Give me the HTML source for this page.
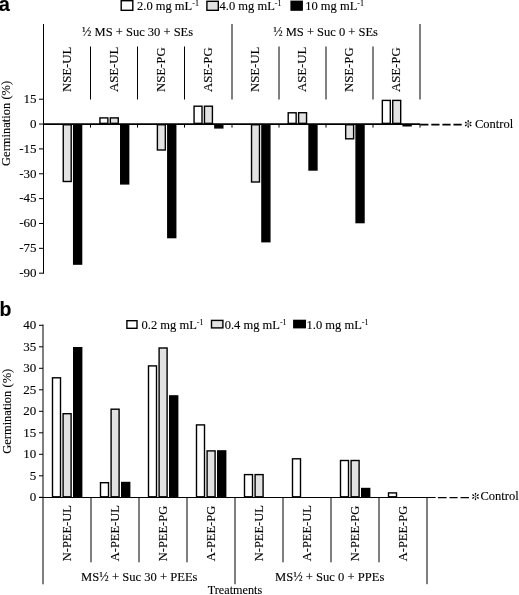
<!DOCTYPE html>
<html><head><meta charset="utf-8"><style>
html,body{margin:0;padding:0;background:#fff;width:519px;height:595px;overflow:hidden}
svg{display:block;will-change:transform}
text{font-family:"Liberation Serif",serif;fill:#000;stroke:#000;stroke-width:0.12px}
</style></head><body>
<svg width="519" height="595" viewBox="0 0 519 595">
<text x="-1.2" y="10.6" style="font-family:&quot;Liberation Sans&quot;,sans-serif;font-weight:bold" font-size="20">a</text>
<rect x="121.20" y="0.70" width="11.60" height="9.60" fill="#fff" stroke="#000" stroke-width="1.4"/>
<text x="137" y="10" font-size="12.5" text-anchor="start" >2.0 mg mL<tspan font-size="8" dy="-3.8">-1</tspan></text>
<rect x="206.90" y="1.30" width="11.40" height="9.00" fill="#e2e2e2" stroke="#000" stroke-width="1.4"/>
<text x="219.6" y="10" font-size="12.5" text-anchor="start" >4.0 mg mL<tspan font-size="8" dy="-3.8">-1</tspan></text>
<rect x="291.10" y="1.30" width="11.10" height="8.80" fill="#000" stroke="#000" stroke-width="1.4"/>
<text x="305.2" y="10" font-size="12.5" text-anchor="start" >10 mg mL<tspan font-size="8" dy="-3.8">-1</tspan></text>
<line x1="43.5" y1="24" x2="43.5" y2="273.7" stroke="#000" stroke-width="1" />
<line x1="232" y1="24" x2="232" y2="99.5" stroke="#000" stroke-width="1" />
<line x1="420" y1="24" x2="420" y2="99.5" stroke="#000" stroke-width="1" />
<line x1="90.5" y1="46.5" x2="90.5" y2="99.5" stroke="#000" stroke-width="1" />
<line x1="137.5" y1="46.5" x2="137.5" y2="99.5" stroke="#000" stroke-width="1" />
<line x1="184.5" y1="46.5" x2="184.5" y2="99.5" stroke="#000" stroke-width="1" />
<line x1="279" y1="46.5" x2="279" y2="99.5" stroke="#000" stroke-width="1" />
<line x1="326" y1="46.5" x2="326" y2="99.5" stroke="#000" stroke-width="1" />
<line x1="373" y1="46.5" x2="373" y2="99.5" stroke="#000" stroke-width="1" />
<text x="137.6" y="35.5" font-size="12.5" text-anchor="middle" >½ MS + Suc 30 + SEs</text>
<text x="325.6" y="35.5" font-size="12.5" text-anchor="middle" >½ MS + Suc 0 + SEs</text>
<text transform="translate(71.0,92.1) rotate(-90)" font-size="12.8" text-anchor="start">NSE-UL</text>
<text transform="translate(118.4,92.1) rotate(-90)" font-size="12.8" text-anchor="start">ASE-UL</text>
<text transform="translate(165.4,92.1) rotate(-90)" font-size="12.8" text-anchor="start">NSE-PG</text>
<text transform="translate(212.4,92.1) rotate(-90)" font-size="12.8" text-anchor="start">ASE-PG</text>
<text transform="translate(259.2,92.1) rotate(-90)" font-size="12.8" text-anchor="start">NSE-UL</text>
<text transform="translate(306.2,92.1) rotate(-90)" font-size="12.8" text-anchor="start">ASE-UL</text>
<text transform="translate(353.2,92.1) rotate(-90)" font-size="12.8" text-anchor="start">NSE-PG</text>
<text transform="translate(400.3,92.1) rotate(-90)" font-size="12.8" text-anchor="start">ASE-PG</text>
<line x1="39" y1="99.205" x2="43.5" y2="99.205" stroke="#000" stroke-width="1" />
<text x="36.6" y="103.005" font-size="13" text-anchor="end" >15</text>
<line x1="39" y1="124.06" x2="43.5" y2="124.06" stroke="#000" stroke-width="1" />
<text x="36.6" y="127.86" font-size="13" text-anchor="end" >0</text>
<line x1="39" y1="148.915" x2="43.5" y2="148.915" stroke="#000" stroke-width="1" />
<text x="36.6" y="152.715" font-size="13" text-anchor="end" >-15</text>
<line x1="39" y1="173.77" x2="43.5" y2="173.77" stroke="#000" stroke-width="1" />
<text x="36.6" y="177.57000000000002" font-size="13" text-anchor="end" >-30</text>
<line x1="39" y1="198.625" x2="43.5" y2="198.625" stroke="#000" stroke-width="1" />
<text x="36.6" y="202.425" font-size="13" text-anchor="end" >-45</text>
<line x1="39" y1="223.48000000000002" x2="43.5" y2="223.48000000000002" stroke="#000" stroke-width="1" />
<text x="36.6" y="227.28000000000003" font-size="13" text-anchor="end" >-60</text>
<line x1="39" y1="248.335" x2="43.5" y2="248.335" stroke="#000" stroke-width="1" />
<text x="36.6" y="252.13500000000002" font-size="13" text-anchor="end" >-75</text>
<line x1="39" y1="273.19" x2="43.5" y2="273.19" stroke="#000" stroke-width="1" />
<text x="36.6" y="276.99" font-size="13" text-anchor="end" >-90</text>
<text transform="translate(10.3,123.4) rotate(-90)" font-size="12.5" text-anchor="middle">Germination (%)</text>
<rect x="63.25" y="124.76" width="7.95" height="56.74" fill="#e2e2e2" stroke="#000" stroke-width="1.4"/>
<rect x="73.65" y="124.76" width="7.95" height="139.34" fill="#000" stroke="#000" stroke-width="1.4"/>
<rect x="99.92" y="117.90" width="7.95" height="5.46" fill="#fff" stroke="#000" stroke-width="1.4"/>
<rect x="110.32" y="117.90" width="7.95" height="5.46" fill="#e2e2e2" stroke="#000" stroke-width="1.4"/>
<rect x="120.72" y="124.76" width="7.95" height="59.14" fill="#000" stroke="#000" stroke-width="1.4"/>
<rect x="157.39" y="124.76" width="7.95" height="25.24" fill="#e2e2e2" stroke="#000" stroke-width="1.4"/>
<rect x="167.79" y="124.76" width="7.95" height="112.84" fill="#000" stroke="#000" stroke-width="1.4"/>
<rect x="194.06" y="106.20" width="7.95" height="17.16" fill="#fff" stroke="#000" stroke-width="1.4"/>
<rect x="204.46" y="106.20" width="7.95" height="17.16" fill="#e2e2e2" stroke="#000" stroke-width="1.4"/>
<rect x="214.86" y="124.76" width="7.95" height="3.14" fill="#000" stroke="#000" stroke-width="1.4"/>
<rect x="251.53" y="124.76" width="7.95" height="57.24" fill="#e2e2e2" stroke="#000" stroke-width="1.4"/>
<rect x="261.93" y="124.76" width="7.95" height="116.94" fill="#000" stroke="#000" stroke-width="1.4"/>
<rect x="288.20" y="112.80" width="7.95" height="10.56" fill="#fff" stroke="#000" stroke-width="1.4"/>
<rect x="298.60" y="112.70" width="7.95" height="10.66" fill="#e2e2e2" stroke="#000" stroke-width="1.4"/>
<rect x="309.00" y="124.76" width="7.95" height="45.24" fill="#000" stroke="#000" stroke-width="1.4"/>
<rect x="345.67" y="124.76" width="7.95" height="14.04" fill="#e2e2e2" stroke="#000" stroke-width="1.4"/>
<rect x="356.07" y="124.76" width="7.95" height="97.84" fill="#000" stroke="#000" stroke-width="1.4"/>
<rect x="382.34" y="100.40" width="7.95" height="22.96" fill="#fff" stroke="#000" stroke-width="1.4"/>
<rect x="392.74" y="100.40" width="7.95" height="22.96" fill="#e2e2e2" stroke="#000" stroke-width="1.4"/>
<rect x="403.14" y="124.76" width="7.95" height="1.04" fill="#000" stroke="#000" stroke-width="1.4"/>
<line x1="43" y1="124.06" x2="420.2" y2="124.06" stroke="#000" stroke-width="1.8" />
<line x1="90.5" y1="124.06" x2="90.5" y2="127.6" stroke="#000" stroke-width="1" />
<line x1="137.5" y1="124.06" x2="137.5" y2="127.6" stroke="#000" stroke-width="1" />
<line x1="184.5" y1="124.06" x2="184.5" y2="127.6" stroke="#000" stroke-width="1" />
<line x1="232" y1="124.06" x2="232" y2="127.6" stroke="#000" stroke-width="1" />
<line x1="279" y1="124.06" x2="279" y2="127.6" stroke="#000" stroke-width="1" />
<line x1="326" y1="124.06" x2="326" y2="127.6" stroke="#000" stroke-width="1" />
<line x1="373" y1="124.06" x2="373" y2="127.6" stroke="#000" stroke-width="1" />
<line x1="420" y1="124.06" x2="420" y2="127.6" stroke="#000" stroke-width="1" />
<line x1="420.2" y1="124.7" x2="461.7" y2="124.7" stroke="#000" stroke-width="1.7" stroke-dasharray="8.2 2.9"/>
<g fill="#000" stroke="#000" stroke-width="0.35">
<ellipse cx="468.20" cy="121.15" rx="1.05" ry="0.72" transform="rotate(-90 468.20 121.15)" stroke="none"/>
<line x1="468.20" y1="123.90" x2="468.20" y2="121.15"/>
<ellipse cx="470.58" cy="122.53" rx="1.05" ry="0.72" transform="rotate(-30 470.58 122.53)" stroke="none"/>
<line x1="468.20" y1="123.90" x2="470.58" y2="122.53"/>
<ellipse cx="470.58" cy="125.28" rx="1.05" ry="0.72" transform="rotate(30 470.58 125.28)" stroke="none"/>
<line x1="468.20" y1="123.90" x2="470.58" y2="125.28"/>
<ellipse cx="468.20" cy="126.65" rx="1.05" ry="0.72" transform="rotate(90 468.20 126.65)" stroke="none"/>
<line x1="468.20" y1="123.90" x2="468.20" y2="126.65"/>
<ellipse cx="465.82" cy="125.28" rx="1.05" ry="0.72" transform="rotate(150 465.82 125.28)" stroke="none"/>
<line x1="468.20" y1="123.90" x2="465.82" y2="125.28"/>
<ellipse cx="465.82" cy="122.53" rx="1.05" ry="0.72" transform="rotate(-150 465.82 122.53)" stroke="none"/>
<line x1="468.20" y1="123.90" x2="465.82" y2="122.53"/>
</g>
<text x="475" y="127.6" font-size="12.5" text-anchor="start" >Control</text>
<text x="-0.6" y="315.8" style="font-family:&quot;Liberation Sans&quot;,sans-serif;font-weight:bold" font-size="19.5">b</text>
<rect x="126.90" y="320.70" width="10.10" height="7.60" fill="#fff" stroke="#000" stroke-width="1.4"/>
<text x="141.6" y="328.6" font-size="12.5" text-anchor="start" >0.2 mg mL<tspan font-size="8" dy="-3.8">-1</tspan></text>
<rect x="211.50" y="320.40" width="11.40" height="7.50" fill="#e2e2e2" stroke="#000" stroke-width="1.4"/>
<text x="224.7" y="328.6" font-size="12.5" text-anchor="start" >0.4 mg mL<tspan font-size="8" dy="-3.8">-1</tspan></text>
<rect x="293.80" y="320.40" width="11.50" height="7.30" fill="#000" stroke="#000" stroke-width="1.4"/>
<text x="306.6" y="328.6" font-size="12.5" text-anchor="start" >1.0 mg mL<tspan font-size="8" dy="-3.8">-1</tspan></text>
<line x1="43" y1="324.5" x2="43" y2="584.3" stroke="#000" stroke-width="1" />
<line x1="39" y1="497.3" x2="43" y2="497.3" stroke="#000" stroke-width="1" />
<text x="36.2" y="501.3" font-size="13" text-anchor="end" >0</text>
<line x1="39" y1="475.8" x2="43" y2="475.8" stroke="#000" stroke-width="1" />
<text x="36.2" y="479.8" font-size="13" text-anchor="end" >5</text>
<line x1="39" y1="454.3" x2="43" y2="454.3" stroke="#000" stroke-width="1" />
<text x="36.2" y="458.3" font-size="13" text-anchor="end" >10</text>
<line x1="39" y1="432.8" x2="43" y2="432.8" stroke="#000" stroke-width="1" />
<text x="36.2" y="436.8" font-size="13" text-anchor="end" >15</text>
<line x1="39" y1="411.3" x2="43" y2="411.3" stroke="#000" stroke-width="1" />
<text x="36.2" y="415.3" font-size="13" text-anchor="end" >20</text>
<line x1="39" y1="389.8" x2="43" y2="389.8" stroke="#000" stroke-width="1" />
<text x="36.2" y="393.8" font-size="13" text-anchor="end" >25</text>
<line x1="39" y1="368.3" x2="43" y2="368.3" stroke="#000" stroke-width="1" />
<text x="36.2" y="372.3" font-size="13" text-anchor="end" >30</text>
<line x1="39" y1="346.8" x2="43" y2="346.8" stroke="#000" stroke-width="1" />
<text x="36.2" y="350.8" font-size="13" text-anchor="end" >35</text>
<line x1="39" y1="325.3" x2="43" y2="325.3" stroke="#000" stroke-width="1" />
<text x="36.2" y="329.3" font-size="13" text-anchor="end" >40</text>
<text transform="translate(11.1,411.3) rotate(-90)" font-size="12.5" text-anchor="middle">Germination (%)</text>
<rect x="52.50" y="377.80" width="8.00" height="119.00" fill="#fff" stroke="#000" stroke-width="1.4"/>
<rect x="63.10" y="413.70" width="8.00" height="83.10" fill="#e2e2e2" stroke="#000" stroke-width="1.4"/>
<rect x="73.70" y="347.70" width="8.00" height="149.10" fill="#000" stroke="#000" stroke-width="1.4"/>
<rect x="100.50" y="482.70" width="8.00" height="14.10" fill="#fff" stroke="#000" stroke-width="1.4"/>
<rect x="111.10" y="409.20" width="8.00" height="87.60" fill="#e2e2e2" stroke="#000" stroke-width="1.4"/>
<rect x="121.70" y="482.50" width="8.00" height="14.30" fill="#000" stroke="#000" stroke-width="1.4"/>
<rect x="148.50" y="365.90" width="8.00" height="130.90" fill="#fff" stroke="#000" stroke-width="1.4"/>
<rect x="159.10" y="348.00" width="8.00" height="148.80" fill="#e2e2e2" stroke="#000" stroke-width="1.4"/>
<rect x="169.70" y="395.90" width="8.00" height="100.90" fill="#000" stroke="#000" stroke-width="1.4"/>
<rect x="196.50" y="424.90" width="8.00" height="71.90" fill="#fff" stroke="#000" stroke-width="1.4"/>
<rect x="207.10" y="450.90" width="8.00" height="45.90" fill="#e2e2e2" stroke="#000" stroke-width="1.4"/>
<rect x="217.70" y="450.90" width="8.00" height="45.90" fill="#000" stroke="#000" stroke-width="1.4"/>
<rect x="244.50" y="474.60" width="8.00" height="22.20" fill="#fff" stroke="#000" stroke-width="1.4"/>
<rect x="255.10" y="474.60" width="8.00" height="22.20" fill="#e2e2e2" stroke="#000" stroke-width="1.4"/>
<rect x="292.50" y="458.80" width="8.00" height="38.00" fill="#fff" stroke="#000" stroke-width="1.4"/>
<rect x="340.50" y="460.50" width="8.00" height="36.30" fill="#fff" stroke="#000" stroke-width="1.4"/>
<rect x="351.10" y="460.50" width="8.00" height="36.30" fill="#e2e2e2" stroke="#000" stroke-width="1.4"/>
<rect x="361.70" y="488.50" width="8.00" height="8.30" fill="#000" stroke="#000" stroke-width="1.4"/>
<rect x="388.50" y="492.90" width="8.00" height="3.90" fill="#fff" stroke="#000" stroke-width="1.4"/>
<line x1="39" y1="497.5" x2="435.6" y2="497.5" stroke="#000" stroke-width="1.2" />
<line x1="435.6" y1="497.6" x2="469" y2="497.6" stroke="#000" stroke-width="1.3" stroke-dasharray="0 2.3 8.7 2.9 8.1 2.9 8.1"/>
<g fill="#000" stroke="#000" stroke-width="0.35">
<ellipse cx="475.50" cy="493.75" rx="1.05" ry="0.72" transform="rotate(-90 475.50 493.75)" stroke="none"/>
<line x1="475.50" y1="496.50" x2="475.50" y2="493.75"/>
<ellipse cx="477.88" cy="495.12" rx="1.05" ry="0.72" transform="rotate(-30 477.88 495.12)" stroke="none"/>
<line x1="475.50" y1="496.50" x2="477.88" y2="495.12"/>
<ellipse cx="477.88" cy="497.88" rx="1.05" ry="0.72" transform="rotate(30 477.88 497.88)" stroke="none"/>
<line x1="475.50" y1="496.50" x2="477.88" y2="497.88"/>
<ellipse cx="475.50" cy="499.25" rx="1.05" ry="0.72" transform="rotate(90 475.50 499.25)" stroke="none"/>
<line x1="475.50" y1="496.50" x2="475.50" y2="499.25"/>
<ellipse cx="473.12" cy="497.88" rx="1.05" ry="0.72" transform="rotate(150 473.12 497.88)" stroke="none"/>
<line x1="475.50" y1="496.50" x2="473.12" y2="497.88"/>
<ellipse cx="473.12" cy="495.12" rx="1.05" ry="0.72" transform="rotate(-150 473.12 495.12)" stroke="none"/>
<line x1="475.50" y1="496.50" x2="473.12" y2="495.12"/>
</g>
<text x="480.5" y="500.2" font-size="12.5" text-anchor="start" >Control</text>
<line x1="91" y1="497.5" x2="91" y2="562.3" stroke="#000" stroke-width="1" />
<line x1="139" y1="497.5" x2="139" y2="562.3" stroke="#000" stroke-width="1" />
<line x1="187" y1="497.5" x2="187" y2="562.3" stroke="#000" stroke-width="1" />
<line x1="283" y1="497.5" x2="283" y2="562.3" stroke="#000" stroke-width="1" />
<line x1="331" y1="497.5" x2="331" y2="562.3" stroke="#000" stroke-width="1" />
<line x1="379" y1="497.5" x2="379" y2="562.3" stroke="#000" stroke-width="1" />
<line x1="235" y1="497.5" x2="235" y2="584.2" stroke="#000" stroke-width="1" />
<line x1="427" y1="497.5" x2="427" y2="584.2" stroke="#000" stroke-width="1" />
<text transform="translate(71.2,561.3) rotate(-90)" font-size="12.5" text-anchor="start">N-PEE-UL</text>
<text transform="translate(119.2,561.3) rotate(-90)" font-size="12.5" text-anchor="start">A-PEE-UL</text>
<text transform="translate(167.2,561.3) rotate(-90)" font-size="12.5" text-anchor="start">N-PEE-PG</text>
<text transform="translate(215.2,561.3) rotate(-90)" font-size="12.5" text-anchor="start">A-PEE-PG</text>
<text transform="translate(263.0,561.3) rotate(-90)" font-size="12.5" text-anchor="start">N-PEE-UL</text>
<text transform="translate(311.0,561.3) rotate(-90)" font-size="12.5" text-anchor="start">A-PEE-UL</text>
<text transform="translate(359.0,561.3) rotate(-90)" font-size="12.5" text-anchor="start">N-PEE-PG</text>
<text transform="translate(407.0,561.3) rotate(-90)" font-size="12.5" text-anchor="start">A-PEE-PG</text>
<text x="139.3" y="581" font-size="12.6" text-anchor="middle" >MS½ + Suc 30 + PEEs</text>
<text x="329.7" y="581" font-size="12.6" text-anchor="middle" >MS½ + Suc 0 + PPEs</text>
<text x="235" y="594" font-size="12.2" text-anchor="middle" >Treatments</text>
</svg>
</body></html>
